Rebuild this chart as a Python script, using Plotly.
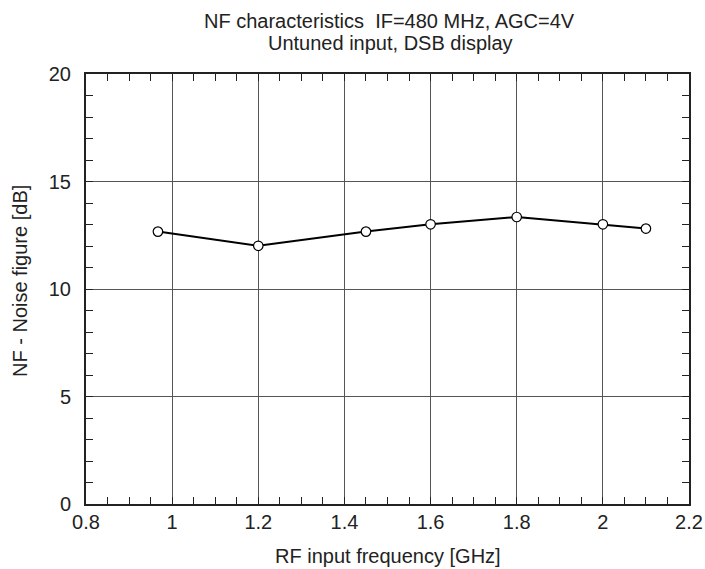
import plotly.graph_objects as go

freq_ghz = [0.967, 1.2, 1.45, 1.6, 1.8, 2.0, 2.1]
nf_db = [12.67, 12.01, 12.67, 13.01, 13.35, 13.01, 12.81]

x_ticks = [0.8, 1.0, 1.2, 1.4, 1.6, 1.8, 2.0, 2.2]
x_ticklabels = ["0.8", "1", "1.2", "1.4", "1.6", "1.8", "2", "2.2"]
y_ticks = [0, 5, 10, 15, 20]

title_lines = ["NF characteristics  IF=480 MHz, AGC=4V", "Untuned input, DSB display"]
x_title = "RF input frequency [GHz]"
y_title = "NF - Noise figure [dB]"

font = "Liberation Sans, Arial, sans-serif"
ink = "#222222"

L, R, T, B = 86, 16, 74, 65
W, H = 705, 569
PW, PH = W - L - R, H - T - B

fig = go.Figure()
fig.add_trace(go.Scatter(
    x=freq_ghz, y=nf_db, mode="lines+markers",
    line=dict(color="black", width=2),
    marker=dict(symbol="circle", size=9.5, color="white",
                line=dict(color="black", width=1.2)),
    showlegend=False,
))

axis_common = dict(
    showline=True, linecolor=ink, linewidth=2, mirror="allticks",
    ticks="inside", ticklen=7, tickcolor=ink, tickwidth=1,
    showgrid=True, gridcolor="#555555", gridwidth=1,
    zeroline=False, automargin=False,
    tickfont=dict(family=font, size=20, color=ink),
)

fig.update_xaxes(
    range=[0.8, 2.2], tickvals=x_ticks, ticktext=x_ticklabels,
    minor=dict(dtick=0.05, tick0=0.8, ticks="inside", ticklen=7,
               tickcolor=ink, showgrid=False),
    ticklabelstandoff=-1,
    **axis_common,
)
fig.update_yaxes(
    range=[0, 20], tickvals=y_ticks,
    minor=dict(dtick=1, tick0=0, ticks="inside", ticklen=7,
               tickcolor=ink, showgrid=False),
    ticklabelstandoff=9,
    **axis_common,
)

def px_x(p):
    return (p - L) / PW

def px_y(p):
    return (H - B - p) / PH

annotations = [
    dict(text=title_lines[0], x=px_x(389), y=px_y(21), font=dict(family=font, size=20, color=ink)),
    dict(text=title_lines[1], x=px_x(390), y=px_y(43), font=dict(family=font, size=20, color=ink)),
    dict(text=x_title, x=px_x(388), y=px_y(556), font=dict(family=font, size=20, color=ink)),
    dict(text=y_title, x=px_x(20), y=px_y(281), textangle=-90, font=dict(family=font, size=20, color=ink)),
]
for a in annotations:
    a.update(xref="paper", yref="paper", xanchor="center", yanchor="middle", showarrow=False)

fig.update_layout(
    width=W, height=H,
    margin=dict(l=L, r=R, t=T, b=B),
    paper_bgcolor="white", plot_bgcolor="white",
    annotations=annotations,
)

fig.write_html(
    "out.html",
    config={"displayModeBar": False},
    post_script="document.body.style.margin='0';document.body.style.padding='0';",
)
